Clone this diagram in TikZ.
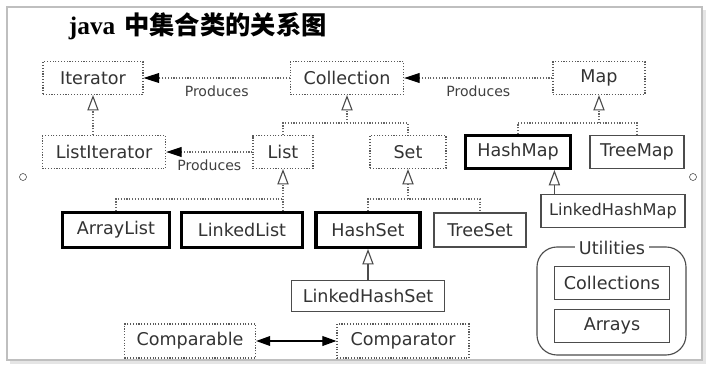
\documentclass[tikz,border=0pt]{standalone}
\usepackage{fontspec}
\setmainfont{DejaVu Sans}
\newfontfamily\titlefont{Liberation Serif}
\newfontfamily\cjk{Noto Sans CJK SC}
\usetikzlibrary{arrows.meta,positioning}

\begin{document}
\begin{tikzpicture}[x=0.025cm, y=-0.025cm,
  box/.style={minimum height=0.82cm, inner sep=2pt, font=\fontsize{12.5}{14}\selectfont, text=black!80},
  iface/.style={box, draw=black!65, dash pattern=on 0.8pt off 1.2pt, line width=0.8pt},
  klass/.style={box, draw=black!70, line width=0.8pt},
  core/.style={box, draw=black, line width=2.2pt},
  lab/.style={font=\fontsize{10}{12}\selectfont, text=black!75, inner sep=1pt, below=4pt},
  dots/.style={draw=black!60, dash pattern=on 0.8pt off 1.2pt, line width=0.8pt},
  line/.style={draw=black!70, line width=0.8pt},
  isa/.style={-{Triangle[open, length=11pt, width=8pt, color=black!70]}},
  uses/.style={-{Triangle[length=11pt, width=7pt, color=black]}}
]
\useasboundingbox (0,0) rectangle (718,376);
\fill[white] (0,0) rectangle (718,376);
% screenshot frame
\fill[black!10] (10,10) rectangle (706,364);
\fill[white] (7,7) rectangle (702,360);
\draw[black!25, line width=0.8pt] (7,7) rectangle (702,360);
\draw[black!70] (23,177) circle[radius=2.5pt];
\draw[black!70] (693,177) circle[radius=2.5pt];

\node (title) [anchor=west, font=\fontsize{18}{21}\selectfont\bfseries] at (64,26) {{\titlefont java} {\cjk 中集合类的关系图}};

% interfaces
\node (iter) [iface, minimum width=2.5cm] at (93,78) {Iterator};
\node (coll) [iface, minimum width=2.83cm] at (347,78) {Collection};
\node (map) [iface, minimum width=2.3cm] at (599,78) {Map};
\node (liter) [iface, minimum width=3.08cm] at (104,152) {ListIterator};
\node (lst) [iface, minimum width=1.5cm] at (283,152) {List};
\node (set) [iface, minimum width=1.9cm] at (408,152) {Set};

% classes
\node (hmap) [core, minimum width=2.63cm] at (518,152) {HashMap};
\node (tmap) [klass, minimum width=2.35cm] at (637,152) {TreeMap};
\node (alist) [core, minimum width=2.68cm, minimum height=0.87cm] at (116,230) {ArrayList};
\node (llist) [core, minimum width=3.03cm, minimum height=0.87cm] at (242,230) {LinkedList};
\node (hset) [core, minimum width=2.6cm, minimum height=0.87cm] at (368,230) {HashSet};
\node (tset) [klass, minimum width=2.3cm, minimum height=0.85cm] at (480,230) {TreeSet};
\node (lhmap) [klass, minimum width=3.6cm, font=\fontsize{11.5}{13}\selectfont] at (613,211) {LinkedHashMap};
\node (lhset) [klass, minimum width=3.83cm, minimum height=0.78cm] at (368,296) {LinkedHashSet};

% utilities
\draw[line, rounded corners=0.5cm] (537,247) rectangle (686,355);
\node (util) [box, fill=white, minimum height=0pt, inner sep=3pt] at (612,248) {Utilities};
\node (colls) [klass, minimum width=2.88cm] at (612,283) {Collections};
\node (arrs) [klass, minimum width=2.88cm] at (612,326) {Arrays};

\node (cmpble) [iface, minimum width=3.28cm, minimum height=0.85cm] at (190,341) {Comparable};
\node (cmptor) [iface, minimum width=3.3cm, minimum height=0.85cm] at (403,341) {Comparator};

% produces
\draw[dots, uses] (coll) -- node[lab] {Produces} (iter);
\draw[dots, uses] (map) -- node[lab] {Produces} (coll);
\draw[dots, uses] (lst) -- node[lab] {Produces} (liter);

% inheritance
\coordinate (jc) at (347,123);
\coordinate (jm) at (599,123);
\coordinate (jl) at (283,199);
\coordinate (js) at (408,199);
\draw[dots, isa] (liter.north -| iter.south) -- (iter.south);
\draw[dots] (lst.north) |- (jc) -| (set.north);
\draw[dots, isa] (jc) -- (coll.south);
\draw[dots] (hmap.north) |- (jm) -| (tmap.north);
\draw[dots, isa] (jm) -- (map.south);
\draw[dots] (alist.north) |- (jl);
\draw[dots, isa] (llist.north -| jl) -- (lst.south);
\draw[dots] (hset.north) |- (js) -| (tset.north);
\draw[dots, isa] (js) -- (set.south);
\draw[line, isa] (lhset) -- (hset);
\draw[line, isa] ([xshift=0.35cm]lhmap.north west) -- ([xshift=0.35cm]lhmap.north west |- hmap.south);

\draw[line, black, {Triangle[length=10pt, width=7pt]}-{Triangle[length=10pt, width=7pt]}] (cmpble) -- (cmptor);
\end{tikzpicture}
\end{document}
